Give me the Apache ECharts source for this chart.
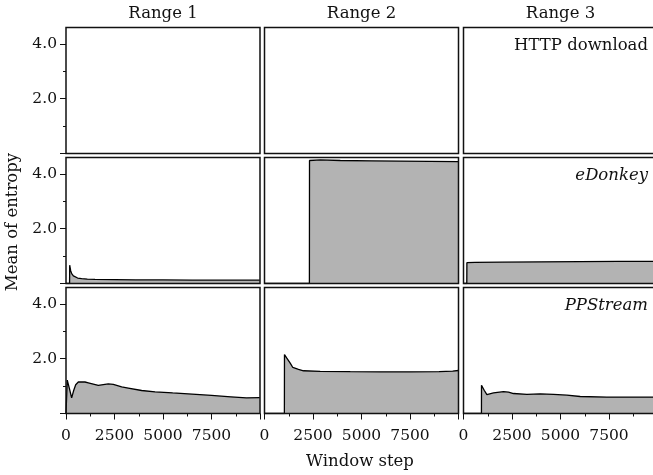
<!DOCTYPE html>
<html>
<head>
<meta charset="utf-8">
<script src="https://cdn.jsdelivr.net/npm/echarts@6/dist/echarts.min.js"></script>
<style>
  html, body { margin: 0; padding: 0; background: #fff; }
  #chart { width: 653px; height: 475px; }
</style>
</head>
<body>
<div id="chart"></div>
<script>
// Column and row headings
const rangeTitles = ['Range 1', 'Range 2', 'Range 3'];
const protocolNames = ['HTTP download', 'eDonkey', 'PPStream'];
const xTickLabels = ['0', '2500', '5000', '7500'];
const yTickLabels = ['2.0', '4.0'];

// HTTP download: nothing above zero in any range
const httpR1Steps = [];
const httpR1Values = [];
const httpR2Steps = [];
const httpR2Values = [];
const httpR3Steps = [];
const httpR3Values = [];

// eDonkey
const edonkeyR1Steps = [0, 185, 190, 240, 294, 380, 464, 600, 809, 1100, 1500, 2500, 3600, 5000, 6500, 8000, 9990];
const edonkeyR1Values = [0, 0, 0.67, 0.47, 0.36, 0.28, 0.24, 0.20, 0.18, 0.16, 0.15, 0.14, 0.13, 0.13, 0.12, 0.12, 0.12];
const edonkeyR2Steps = [0, 2315, 2320, 2880, 3910, 5500, 7000, 8500, 9990];
const edonkeyR2Values = [0, 0, 4.49, 4.51, 4.49, 4.48, 4.47, 4.46, 4.45];
const edonkeyR3Steps = [0, 170, 175, 600, 2000, 4000, 6000, 8000, 9990];
const edonkeyR3Values = [0, 0, 0.76, 0.77, 0.78, 0.79, 0.80, 0.81, 0.81];

// PPStream
const ppstreamR1Steps = [0, 55, 65, 180, 290, 400, 500, 635, 980, 1150, 1665, 2180, 2440, 2870, 3210, 3900, 4590, 5500, 6500, 7500, 8500, 9300, 9990];
const ppstreamR1Values = [0, 0, 1.22, 0.90, 0.57, 0.85, 1.05, 1.15, 1.15, 1.12, 1.03, 1.08, 1.06, 0.97, 0.93, 0.84, 0.79, 0.75, 0.71, 0.66, 0.61, 0.57, 0.58];
const ppstreamR2Steps = [0, 1025, 1030, 1150, 1325, 1460, 1750, 2010, 2870, 4420, 6000, 7500, 9000, 9700, 9990];
const ppstreamR2Values = [0, 0, 2.15, 2.02, 1.84, 1.68, 1.61, 1.56, 1.54, 1.53, 1.52, 1.52, 1.53, 1.55, 1.57];
const ppstreamR3Steps = [0, 925, 928, 1067, 1206, 1546, 2062, 2320, 2577, 3268, 3954, 4640, 5330, 6015, 7390, 8500, 9990];
const ppstreamR3Values = [0, 0, 1.03, 0.85, 0.69, 0.75, 0.80, 0.78, 0.73, 0.70, 0.72, 0.70, 0.67, 0.62, 0.60, 0.60, 0.60];

const panels = [
  [[httpR1Steps, httpR1Values], [httpR2Steps, httpR2Values], [httpR3Steps, httpR3Values]],
  [[edonkeyR1Steps, edonkeyR1Values], [edonkeyR2Steps, edonkeyR2Values], [edonkeyR3Steps, edonkeyR3Values]],
  [[ppstreamR1Steps, ppstreamR1Values], [ppstreamR2Steps, ppstreamR2Values], [ppstreamR3Steps, ppstreamR3Values]]
];

// Layout of the 3x3 panel lattice
const FONT = 'DejaVu Serif';
const TEXT = '#111';
const colLeft = [66, 264.5, 463.5];
const panelW = 194;
const rowTop = [27.5, 157.5, 287.5];
const panelH = 126;
const X_MAX = 10000;
const Y_MAX = 4.6;
const yTickValues = [0].concat(yTickLabels.map(Number));

const grids = [], xAxes = [], yAxes = [], series = [];
for (let r = 0; r < 3; r++) {
  for (let c = 0; c < 3; c++) {
    const i = r * 3 + c;
    const bottomRow = r === 2;
    const firstCol = c === 0;
    grids.push({
      left: colLeft[c], top: rowTop[r], width: panelW, height: panelH,
      containLabel: false, outerBoundsMode: 'none',
      show: true, borderColor: '#111', borderWidth: 1.5,
      backgroundColor: 'transparent', z: 5
    });
    xAxes.push({
      gridIndex: i, type: 'value', min: 0, max: X_MAX, interval: 2500,
      axisLine: { show: false },
      splitLine: { show: false },
      axisTick: { show: bottomRow, length: 6, inside: false, lineStyle: { color: '#111', width: 1 } },
      minorTick: { show: bottomRow, splitNumber: 2, length: 3, lineStyle: { color: '#111', width: 1 } },
      axisLabel: {
        show: bottomRow, margin: 14, color: TEXT, fontFamily: FONT, fontSize: 15.5,
        formatter: v => xTickLabels.includes(String(v)) ? String(v) : ''
      }
    });
    yAxes.push({
      gridIndex: i, type: 'value', min: 0, max: Y_MAX, interval: 2,
      axisLine: { show: false },
      splitLine: { show: false },
      axisTick: { show: firstCol, length: 6, customValues: yTickValues, lineStyle: { color: '#111', width: 1 } },
      minorTick: { show: firstCol, splitNumber: 2, length: 3, lineStyle: { color: '#111', width: 1 } },
      axisLabel: {
        show: firstCol, margin: 9, color: TEXT, fontFamily: FONT, fontSize: 15.5,
        customValues: yTickLabels.map(Number),
        formatter: v => v.toFixed(1)
      }
    });
    const [steps, values] = panels[r][c];
    series.push({
      type: 'line', xAxisIndex: i, yAxisIndex: i,
      data: steps.map((s, k) => [s, values[k]]),
      showSymbol: false, symbol: 'none', z: 2,
      lineStyle: { color: '#000', width: 1.3 },
      areaStyle: { color: '#b3b3b3', opacity: 1 },
      silent: true
    });
  }
}

const graphic = [];
rangeTitles.forEach((t, c) => {
  graphic.push({
    type: 'text', x: colLeft[c] + panelW / 2, y: 14,
    style: { text: t, fontFamily: FONT, fontSize: 16.5, fill: TEXT, align: 'center', verticalAlign: 'middle' }
  });
});
protocolNames.forEach((t, r) => {
  graphic.push({
    type: 'text', x: 648, y: rowTop[r] + 18,
    style: {
      text: t, fontFamily: FONT, fontSize: 16.5, fill: TEXT,
      fontStyle: r === 0 ? 'normal' : 'italic',
      align: 'right', verticalAlign: 'middle'
    }
  });
});
graphic.push({
  type: 'text', x: 13, y: 222, rotation: Math.PI / 2,
  style: { text: 'Mean of entropy', fontFamily: FONT, fontSize: 16.5, fill: TEXT, align: 'center', verticalAlign: 'middle' }
});
graphic.push({
  type: 'text', x: 360, y: 462,
  style: { text: 'Window step', fontFamily: FONT, fontSize: 16.5, fill: TEXT, align: 'center', verticalAlign: 'middle' }
});

const chart = echarts.init(document.getElementById('chart'), null, { renderer: 'canvas' });
chart.setOption({
  animation: false,
  backgroundColor: '#fff',
  grid: grids,
  xAxis: xAxes,
  yAxis: yAxes,
  series: series,
  graphic: graphic
});
</script>
</body>
</html>
